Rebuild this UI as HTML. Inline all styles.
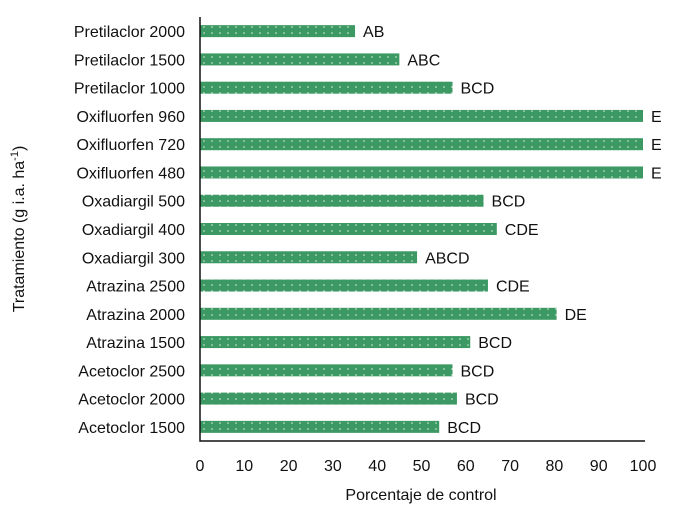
<!DOCTYPE html>
<html><head><meta charset="utf-8"><style>body{margin:0;background:#fff}svg{font-family:"Liberation Sans",Arial,sans-serif}</style></head>
<body>
<svg id="c" width="675" height="508">
<defs><pattern id="dots" width="8" height="6" patternUnits="userSpaceOnUse"><rect width="8" height="6" fill="#3d9963"/><circle cx="4" cy="3" r="0.8" fill="#d8eedd"/></pattern></defs>
</svg>
<script>
const categories=["Pretilaclor 2000","Pretilaclor 1500","Pretilaclor 1000","Oxifluorfen 960","Oxifluorfen 720","Oxifluorfen 480","Oxadiargil 500","Oxadiargil 400","Oxadiargil 300","Atrazina 2500","Atrazina 2000","Atrazina 1500","Acetoclor 2500","Acetoclor 2000","Acetoclor 1500"];
const values=[35,45,57,100,100,100,64,67,49,65,80.5,61,57,58,54];
const letters=["AB","ABC","BCD","E","E","E","BCD","CDE","ABCD","CDE","DE","BCD","BCD","BCD","BCD"];
const ticks=[0,10,20,30,40,50,60,70,80,90,100];
const svg=document.getElementById('c');const NS="http://www.w3.org/2000/svg";
const x0=200,x1=643,yTop=17,yBot=441,band=(yBot-yTop)/categories.length;
const xs=v=>x0+(x1-x0)*v/100;
function mk(t,a,txt){const e=document.createElementNS(NS,t);for(const k in a)e.setAttribute(k,a[k]);if(txt!=null)e.textContent=txt;svg.appendChild(e);return e;}
categories.forEach((c,i)=>{const cy=yTop+band*(i+0.5);
const b=mk('rect',{x:x0,y:cy-6,width:xs(values[i])-x0,height:12,fill:'url(#dots)'});


const l=mk('text',{x:185,y:cy+6,'text-anchor':'end','font-size':16,fill:'#111'},c);


const s=mk('text',{x:xs(values[i])+8,y:cy+6,'font-size':16,fill:'#111'},letters[i]);

});
ticks.forEach(t=>{const e=mk('text',{x:xs(t),y:471,'text-anchor':'middle','font-size':16,fill:'#111'},t);

});
const ax=mk('path',{d:`M${x0} ${yTop}V${yBot}H${x1+2}`,stroke:'#111','stroke-width':1.5,fill:'none'});


const xt=mk('text',{x:421,y:500,'text-anchor':'middle','font-size':16,fill:'#111'},'Porcentaje de control');


const yt=mk('text',{transform:'translate(24,229) rotate(-90)','text-anchor':'middle','font-size':16,fill:'#111'});


yt.innerHTML='Tratamiento (g i.a. ha<tspan dy="-6" font-size="11">-1</tspan><tspan dy="6">)</tspan>';
</script>
</body></html>
